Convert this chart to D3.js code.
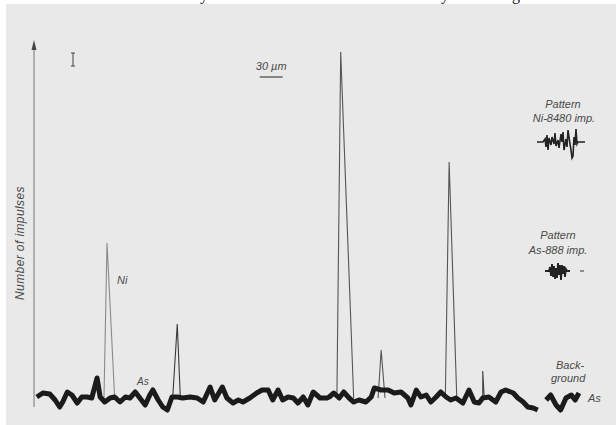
<!DOCTYPE html>
<html>
<head>
<meta charset="utf-8">
<script src="https://cdn.jsdelivr.net/npm/d3@7"></script>
<style>
  body { margin: 0; background: #fff; }
  svg { display: block; }
  .lbl { font-family: "Liberation Sans", Arial, sans-serif; font-style: italic; fill: #4a4a4a; }
</style>
</head>
<body>
<div id="chart"></div>
<script>
// scan position (µm) and counts of the background / As trace
const bgPos = [1, 9, 18, 25, 31, 35, 41, 47, 54, 60, 67, 73, 80, 84, 90, 97, 103, 110, 117, 123,
  130, 136, 143, 149, 153, 160, 166, 172, 178, 185, 192, 202, 211, 219, 228, 234, 244, 250, 258, 265,
  271, 280, 289, 296, 304, 310, 317, 323, 330, 337, 343, 350, 356, 363, 372, 381, 384, 390, 397, 403,
  410, 416, 423, 432, 439, 443, 452, 461, 469, 478, 487, 491, 498, 504, 511, 517, 524, 530, 537, 543,
  550, 559, 567, 574, 580, 585, 593, 602, 609, 615, 625, 631, 638, 644, 651, 657];
const bgCount = [18, 22, 21, 15, 8, 13, 23, 20, 12, 18, 18, 17, 37, 18, 13, 17, 18, 13, 18, 17,
  23, 17, 10, 20, 25, 15, 8, 5, 18, 18, 17, 18, 17, 13, 28, 15, 28, 17, 12, 15,
  13, 17, 22, 25, 25, 15, 25, 15, 18, 17, 12, 18, 10, 23, 17, 17, 18, 22, 17, 23,
  17, 13, 15, 13, 18, 27, 25, 25, 22, 23, 17, 10, 25, 18, 20, 13, 18, 23, 18, 15,
  17, 12, 25, 13, 12, 17, 18, 13, 23, 25, 22, 17, 13, 8, 7, 5];
// background reference piece at the right
const bg2Pos = [668, 674, 681, 687, 694, 701, 706, 711];
const bg2Count = [15, 20, 10, 5, 17, 20, 15, 22];

// Ni peaks: rise start, top, fall end (µm) and top counts
const peakLeft = [89, 179, 394, 448, 536, 585];
const peakTop = [93, 185, 399, 452, 541, 585];
const peakRight = [103, 189, 416, 457, 551, 587];
const peakCount = [172, 91, 363, 65, 253, 44];
const peakBase = 17;
const peakShade = ["#8a8a8a", "#3a3a3a", "#555", "#555", "#555", "#444"];

// pattern inserts (relative position, deflection)
const niPatPos = [0, 6, 8, 9, 10, 11, 12, 14, 15, 17, 18, 19, 21, 22, 24, 25, 26, 27, 29, 30, 31, 33, 34, 35, 36, 37, 38, 39, 40, 41, 48];
const niPatVal = [0, 0, 3, -5, 7, -8, 4, -3, 5, -2, 9, -4, 2, -6, 8, 0, 10, -8, 3, -5, 12, -2, -8, -16, -14, 5, -3, 13, -2, 0, 0];
const asPatPos = [0, 4, 5, 6, 7, 8, 9, 10, 11, 12, 13, 14, 15, 16, 17, 18, 19, 20, 21, 22, 25];
const asPatVal = [0, 0, 4, -5, 7, -6, 5, -8, 3, -7, 8, -4, 6, -9, 6, -3, 5, -6, 2, 0, 0];

const W = 616, H = 425;
const svg = d3.select("#chart").append("svg").attr("width", W).attr("height", H);

// clipped caption line above the scan (only descenders show)
svg.append("g").attr("class", "cap")
  .selectAll("text").data([[200, "y"], [441, "y"], [512, "g"]]).enter().append("text")
  .attr("x", d => d[0]).attr("y", 0)
  .style("font-family", "Liberation Serif, serif").style("font-size", "16px").attr("fill", "#111")
  .text(d => d[1]);

svg.append("rect").attr("x", 6).attr("y", 4).attr("width", W - 6).attr("height", H - 4).attr("fill", "#e9e9e9");

const x = d3.scaleLinear().domain([0, 720]).range([36, 36 + 720 / 1.3095]);
const y = d3.scaleLinear().domain([0, 370]).range([415, 45]);

// y axis with arrow
svg.append("line").attr("x1", 34).attr("x2", 34).attr("y1", 48).attr("y2", 407)
  .attr("stroke", "#777").attr("stroke-width", 1);
svg.append("path").attr("d", "M34,40 L31.5,50 L36.5,50 Z").attr("fill", "#444");

svg.append("text").attr("class", "lbl")
  .attr("transform", "translate(24,243) rotate(-90)")
  .attr("text-anchor", "middle").style("font-size", "12px").style("letter-spacing", "0.4px")
  .text("Number of impulses");

// little "I" mark
svg.append("path").attr("d", "M73,53 V66 M71,53 H75 M71,66 H75").attr("stroke", "#444").attr("fill", "none");

// scale bar
const sb0 = 293;
svg.append("line").attr("x1", x(sb0)).attr("x2", x(sb0 + 30)).attr("y1", 77).attr("y2", 77)
  .attr("stroke", "#444").attr("stroke-width", 1.2);
svg.append("text").attr("class", "lbl").attr("x", (x(sb0) + x(sb0 + 30)) / 2).attr("y", 70)
  .attr("text-anchor", "middle").style("font-size", "11px").text("30 µm");

// peaks
const line = d3.line().x(d => x(d[0])).y(d => y(d[1]));
peakTop.forEach((p, i) => {
  svg.append("path")
    .attr("d", line([[peakLeft[i], peakBase], [p, peakCount[i]], [peakRight[i], peakBase]]))
    .attr("fill", "none").attr("stroke", peakShade[i]).attr("stroke-width", 1.1);
});

// background trace
const bg = bgPos.map((p, i) => [p, bgCount[i]]);
const bg2 = bg2Pos.map((p, i) => [p, bg2Count[i]]);
[bg, bg2].forEach(d => {
  svg.append("path").attr("d", line(d)).attr("fill", "none")
    .attr("stroke", "#1b1b1b").attr("stroke-width", 5).attr("stroke-linejoin", "round");
});

// pattern inserts
const px1 = d3.scaleLinear().domain([0, 48]).range([537, 585]);
const px2 = d3.scaleLinear().domain([0, 25]).range([545, 570]);
svg.append("path").attr("d", d3.line().x(d => px1(d[0])).y(d => 142 - d[1])(niPatPos.map((p, i) => [p, niPatVal[i]])))
  .attr("fill", "none").attr("stroke", "#222").attr("stroke-width", 1.6);
svg.append("path").attr("d", d3.line().x(d => px2(d[0])).y(d => 271 - d[1])(asPatPos.map((p, i) => [p, asPatVal[i]])))
  .attr("fill", "none").attr("stroke", "#222").attr("stroke-width", 1.8);
svg.append("line").attr("x1", 580).attr("x2", 584).attr("y1", 271).attr("y2", 271).attr("stroke", "#333");

// labels
const labels = [
  ["Pattern", 563, 108, "middle", 11],
  ["Ni-8480 imp.", 564, 122, "middle", 11],
  ["Pattern", 558, 239, "middle", 11],
  ["As-888 imp.", 558, 254, "middle", 11],
  ["Back-", 556, 369, "start", 11],
  ["ground", 551, 382, "start", 11],
  ["As", 588, 402, "start", 11],
  ["Ni", 117, 284, "start", 11],
  ["As", 137, 385, "start", 10]
];
svg.selectAll("text.l2").data(labels).enter().append("text")
  .attr("class", "lbl l2")
  .attr("x", d => d[1]).attr("y", d => d[2]).attr("text-anchor", d => d[3])
  .style("font-size", d => d[4] + "px").text(d => d[0]);
</script>
</body>
</html>
